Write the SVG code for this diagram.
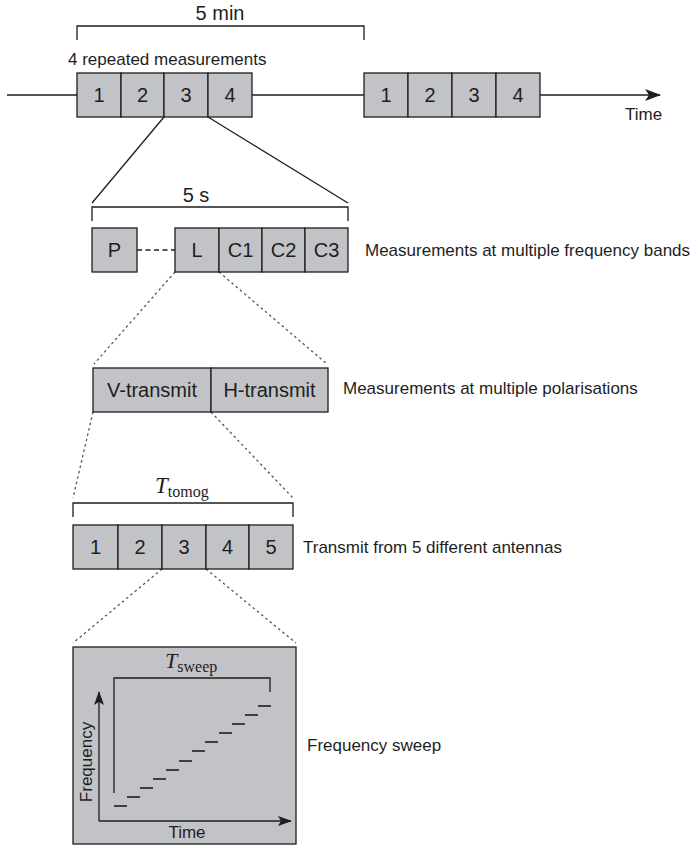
<svg xmlns="http://www.w3.org/2000/svg" width="695" height="845" viewBox="0 0 695 845">
<style>
.bx{fill:#c2c3c6;stroke:#1e1e1e;stroke-width:1.3}
.t{font-family:"Liberation Sans",Arial,sans-serif;fill:#1e1e1e}
.n{font-size:20px;text-anchor:middle}
.lab{font-size:17px}
.ln{stroke:#1e1e1e;stroke-width:1.3;fill:none}
.dot{stroke:#555;stroke-width:1.3;fill:none;stroke-dasharray:2.5 3}
.m{font-family:"Liberation Serif","DejaVu Serif",serif;fill:#1e1e1e}
</style>
<defs>
<marker id="ah" viewBox="0 0 16 12" refX="15" refY="6" markerWidth="16" markerHeight="12" markerUnits="userSpaceOnUse" orient="auto">
<path d="M0,0 L16,6 L0,12 L4,6 Z" fill="#1e1e1e"/>
</marker>
<marker id="ah2" viewBox="0 0 14 10" refX="13" refY="5" markerWidth="14" markerHeight="10" markerUnits="userSpaceOnUse" orient="auto">
<path d="M0,0 L14,5 L0,10 L3,5 Z" fill="#1e1e1e"/>
</marker>
</defs>
<rect width="695" height="845" fill="#fff"/>

<g id="connectors">
<line class="ln" x1="7" y1="95" x2="77" y2="95"/>
<line class="ln" x1="252" y1="95" x2="364" y2="95"/>
<line class="ln" x1="540" y1="95" x2="660" y2="95" marker-end="url(#ah)"/>
<line class="ln" x1="164" y1="117" x2="92" y2="203"/>
<line class="ln" x1="208" y1="117" x2="348" y2="203"/>
<line class="ln" x1="137" y1="250" x2="175" y2="250" stroke-dasharray="5 3.5"/>
<line class="dot" x1="175" y1="272" x2="94" y2="364"/>
<line class="dot" x1="219" y1="272" x2="327" y2="364"/>
<line class="dot" x1="93" y1="412" x2="73" y2="498"/>
<line class="dot" x1="211" y1="412" x2="293" y2="498"/>
<line class="dot" x1="162" y1="569" x2="73" y2="643"/>
<line class="dot" x1="206" y1="569" x2="296" y2="643"/>
</g>

<g id="bracket-5min">
<path class="ln" d="M77,40 V26 H364 V40"/>
<text class="t" x="220" y="20" font-size="20" text-anchor="middle">5 min</text>
</g>
<text class="t lab" x="68" y="65">4 repeated measurements</text>

<g id="meas-group-1">
<rect class="bx" x="77" y="73" width="44" height="44"/>
<rect class="bx" x="121" y="73" width="43" height="44"/>
<rect class="bx" x="164" y="73" width="44" height="44"/>
<rect class="bx" x="208" y="73" width="44" height="44"/>
<text class="t n" x="99" y="102">1</text>
<text class="t n" x="142.5" y="102">2</text>
<text class="t n" x="186" y="102">3</text>
<text class="t n" x="230" y="102">4</text>
</g>
<g id="meas-group-2">
<rect class="bx" x="364" y="73" width="44" height="44"/>
<rect class="bx" x="408" y="73" width="44" height="44"/>
<rect class="bx" x="452" y="73" width="44" height="44"/>
<rect class="bx" x="496" y="73" width="44" height="44"/>
<text class="t n" x="386" y="102">1</text>
<text class="t n" x="430" y="102">2</text>
<text class="t n" x="474" y="102">3</text>
<text class="t n" x="518" y="102">4</text>
</g>
<text class="t lab" x="625" y="120">Time</text>

<g id="bracket-5s">
<path class="ln" d="M92,221 V207 H348 V221"/>
<text class="t" x="196" y="202" font-size="20" text-anchor="middle">5 s</text>
</g>
<g id="bands">
<rect class="bx" x="92" y="228" width="45" height="44"/>
<rect class="bx" x="175" y="228" width="44" height="44"/>
<rect class="bx" x="219" y="228" width="43" height="44"/>
<rect class="bx" x="262" y="228" width="43" height="44"/>
<rect class="bx" x="305" y="228" width="43" height="44"/>
<text class="t n" x="114.5" y="257">P</text>
<text class="t n" x="197" y="257">L</text>
<text class="t n" x="240.5" y="257">C1</text>
<text class="t n" x="283.5" y="257">C2</text>
<text class="t n" x="326.5" y="257">C3</text>
</g>
<text class="t lab" x="365" y="256">Measurements at multiple frequency bands</text>

<g id="polarisations">
<rect class="bx" x="93" y="368" width="118" height="44"/>
<rect class="bx" x="211" y="368" width="117" height="44"/>
<text class="t n" x="152" y="397">V-transmit</text>
<text class="t n" x="269.5" y="397">H-transmit</text>
</g>
<text class="t lab" x="343" y="394">Measurements at multiple polarisations</text>

<g id="bracket-tomog">
<path class="ln" d="M73,517 V503 H293 V517"/>
<text class="m" x="155" y="493"><tspan font-size="23" font-style="italic">T</tspan><tspan font-size="16" dy="4">tomog</tspan></text>
</g>
<g id="antennas">
<rect class="bx" x="73" y="525" width="45" height="44"/>
<rect class="bx" x="118" y="525" width="44" height="44"/>
<rect class="bx" x="162" y="525" width="44" height="44"/>
<rect class="bx" x="206" y="525" width="43" height="44"/>
<rect class="bx" x="249" y="525" width="44" height="44"/>
<text class="t n" x="95.5" y="554">1</text>
<text class="t n" x="140" y="554">2</text>
<text class="t n" x="184" y="554">3</text>
<text class="t n" x="227.5" y="554">4</text>
<text class="t n" x="271" y="554">5</text>
</g>
<text class="t lab" x="303" y="553">Transmit from 5 different antennas</text>

<g id="sweep">
<rect class="bx" x="73" y="647" width="223" height="197"/>
<path class="ln" d="M114,793 V678 H270 V692"/>
<text class="m" x="165" y="668"><tspan font-size="22" font-style="italic">T</tspan><tspan font-size="16" dy="4">sweep</tspan></text>
<line class="ln" x1="99" y1="821" x2="99" y2="692" stroke-width="1.6" marker-end="url(#ah2)"/>
<line class="ln" x1="99" y1="821" x2="291" y2="821" stroke-width="1.6" marker-end="url(#ah2)"/>
<text class="t lab" x="0" y="0" text-anchor="middle" transform="translate(92,762) rotate(-90)">Frequency</text>
<text class="t lab" x="187" y="838" text-anchor="middle">Time</text>
<g stroke="#1e1e1e" stroke-width="1.6">
<line x1="114" y1="806" x2="127" y2="806"/>
<line x1="127" y1="797" x2="140" y2="797"/>
<line x1="140" y1="788" x2="153" y2="788"/>
<line x1="153" y1="779" x2="166" y2="779"/>
<line x1="166" y1="770" x2="179" y2="770"/>
<line x1="179" y1="761" x2="192" y2="761"/>
<line x1="192" y1="751" x2="205" y2="751"/>
<line x1="205" y1="742" x2="218" y2="742"/>
<line x1="219" y1="733" x2="232" y2="733"/>
<line x1="232" y1="724" x2="245" y2="724"/>
<line x1="245" y1="715" x2="258" y2="715"/>
<line x1="258" y1="706" x2="271" y2="706"/>
</g>
</g>
<text class="t lab" x="307" y="751">Frequency sweep</text>
</svg>
